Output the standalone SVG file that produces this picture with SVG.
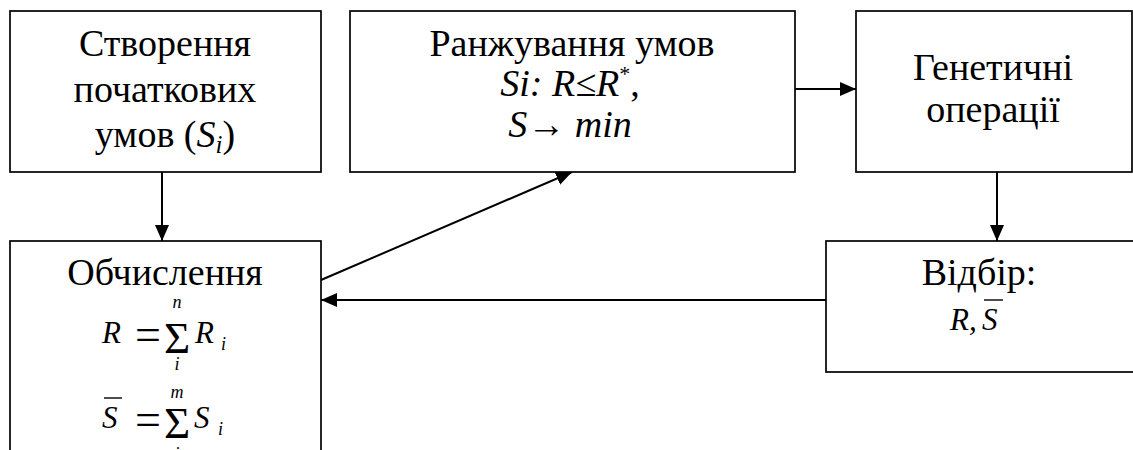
<svg xmlns="http://www.w3.org/2000/svg" width="1133" height="450" viewBox="0 0 1133 450" font-family="'Liberation Serif', 'Times New Roman', serif">
<style>
.box{fill:#fff;stroke:#000;stroke-width:1.7}
.t{font-size:38px;text-anchor:middle}
.i{font-style:italic}
.sg{font-size:45px;text-anchor:middle}
.c{stroke:#000;stroke-width:2;fill:none}
.ov{stroke:#000;stroke-width:1.4}
</style>
<defs>
<marker id="ah" markerWidth="16" markerHeight="14" refX="16" refY="7" orient="auto" markerUnits="userSpaceOnUse">
<path d="M0,0 L16,7 L0,14 Z" fill="#000"/>
</marker>
</defs>
<rect width="1133" height="450" fill="#fff"/>
<g id="connectors">
<line class="c" x1="162" y1="172" x2="162" y2="241" marker-end="url(#ah)"/>
<line class="c" x1="795" y1="89" x2="856" y2="89" marker-end="url(#ah)"/>
<line class="c" x1="997" y1="172" x2="997" y2="241" marker-end="url(#ah)"/>
<line class="c" x1="826" y1="300" x2="321" y2="300" marker-end="url(#ah)"/>
<line class="c" x1="321" y1="280" x2="572" y2="172" marker-end="url(#ah)"/>
</g>
<g id="n1">
<rect class="box" x="10" y="11" width="311" height="161"/>
<text class="t" x="165" y="56">Створення</text>
<text class="t" x="165" y="102">початкових</text>
<text class="t" x="165" y="147">умов (<tspan class="i">S</tspan><tspan class="i" font-size="25" dy="6">i</tspan><tspan dy="-6">)</tspan></text>
</g>
<g id="n2">
<rect class="box" x="350" y="11" width="445" height="161"/>
<text class="t" x="572" y="56">Ранжування умов</text>
<text class="t" x="570" y="96"><tspan class="i">Si: R≤R</tspan><tspan font-size="22" dy="-15">*</tspan><tspan dy="15">,</tspan></text>
<text class="t" x="570" y="137"><tspan class="i">S</tspan>→ <tspan class="i">min</tspan></text>
</g>
<g id="n3">
<rect class="box" x="856" y="11" width="276" height="161"/>
<text class="t" x="993" y="80">Генетичні</text>
<text class="t" x="993" y="122">операції</text>
</g>
<g id="n4">
<rect class="box" x="10" y="241" width="311" height="220"/>
<text class="t" x="165" y="285">Обчислення</text>
<text class="i" x="102" y="343" font-size="31">R</text>
<text x="148" y="350" font-size="46" text-anchor="middle">=</text>
<text class="sg" x="177" y="353">Σ</text>
<text class="i" x="177" y="308" font-size="18" text-anchor="middle">n</text>
<text class="i" x="177" y="370" font-size="18" text-anchor="middle">i</text>
<text class="i" x="195" y="343" font-size="31">R</text>
<text class="i" x="221" y="350" font-size="18">i</text>
<line class="ov" x1="104" y1="398" x2="122" y2="398"/>
<text class="i" x="102" y="428" font-size="31">S</text>
<text x="148" y="435" font-size="46" text-anchor="middle">=</text>
<text class="sg" x="177" y="438">Σ</text>
<text class="i" x="177" y="398" font-size="18" text-anchor="middle">m</text>
<text class="i" x="177" y="460" font-size="18" text-anchor="middle">i</text>
<text class="i" x="194" y="428" font-size="31">S</text>
<text class="i" x="218" y="435" font-size="18">i</text>
</g>
<g id="n5">
<rect class="box" x="826" y="241" width="320" height="131"/>
<text class="t" x="979" y="285">Відбір:</text>
<text class="i" x="950" y="330" font-size="31">R,</text>
<line class="ov" x1="984" y1="300" x2="1003" y2="300"/>
<text class="i" x="982" y="330" font-size="31">S</text>
</g>
</svg>
